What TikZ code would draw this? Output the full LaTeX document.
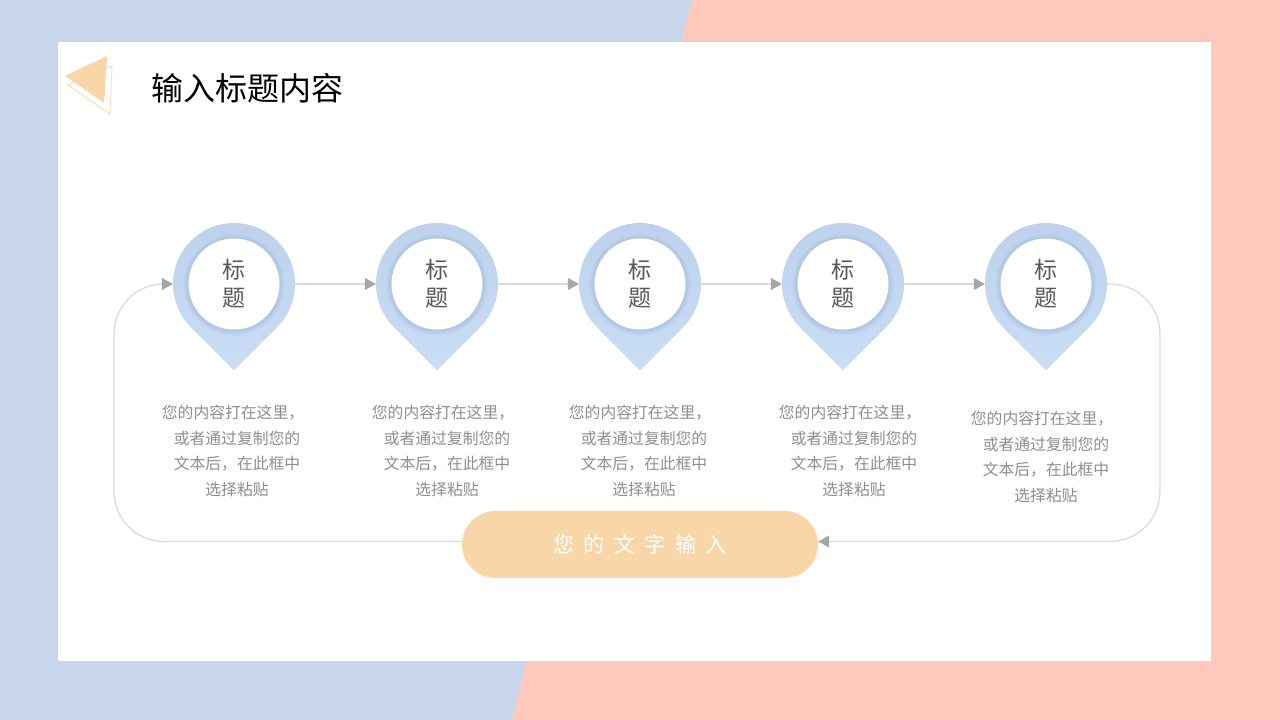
\documentclass[tikz,border=0pt]{standalone}
\usepackage{fontspec}
\setmainfont{Noto Sans CJK SC}
\usetikzlibrary{arrows.meta}
\definecolor{bgblue}{HTML}{C8D5EC}
\definecolor{bgpink}{HTML}{FEC9BC}
\definecolor{pinA}{HTML}{BDD1EC}
\definecolor{pinB}{HTML}{C9DDF5}
\definecolor{pinshadow}{HTML}{7F9CC5}
\definecolor{peach}{HTML}{F8D6A8}
\definecolor{linegray}{HTML}{D9D9D9}
\definecolor{tipgray}{HTML}{A6A6A6}
\definecolor{txtgray}{HTML}{8F8F8F}
\definecolor{pintxt}{HTML}{595959}
\tikzset{
  pinnode/.style={circle, minimum size=122pt, inner sep=0pt},
  flow/.style={draw=linegray, line width=1.2pt, -{Triangle[length=11pt,width=12pt,color=tipgray]}},
  desc/.style={text=txtgray, font=\fontsize{15.8pt}{25.5pt}\selectfont, align=center, inner sep=0pt},
  pintext/.style={text=pintxt, font=\fontsize{23pt}{28.5pt}\selectfont, align=center, inner sep=0pt},
  pillbox/.style={fill=peach, rounded corners=33.5pt, minimum width=356pt, minimum height=67pt, inner sep=0pt, text=white, font=\fontsize{21pt}{21pt}\selectfont},
}
\begin{document}
\begin{tikzpicture}[x=1pt,y=1pt]
\useasboundingbox (0,0) rectangle (1280,720);
\fill[bgblue] (0,0) rectangle (1280,720);
\fill[bgpink] (692,720) -- (1280,720) -- (1280,0) -- (512,0) -- cycle;
\fill[white] (58,59) rectangle (1211,678);
% logo
\draw[peach!80, line width=1pt] (68,635) -- (112,654) -- (110,606) -- cycle;
\fill[peach] (65,644) -- (107,664) -- (104,617) -- cycle;
\node[anchor=west, font=\fontsize{32pt}{32pt}\selectfont, inner sep=0pt] (title) at (151,632) {输入标题内容};
% pins
\foreach \i/\x in {1/234,2/437,3/640,4/843,5/1046} {
  \node[pinnode] (p\i) at (\x,436) {};
  \shade[top color=pinA, bottom color=pinB] (\x,349.73) -- ([shift={(-45:61)}]\x,436) arc[start angle=-45,end angle=225,radius=61] -- cycle;
  \foreach \r in {46.5,47.5,48.5,49.5,50.5} {
    \fill[pinshadow, opacity=0.06] (\x,435) circle (\r);
  }
  \fill[white] (\x,436) circle (45.5);
  \node[pintext] (t\i) at (\x,436.5) {标\\题};
}
% descriptions
\node[desc] (d1) at (237,269) {您的内容打在这里，\kern8pt\\或者通过复制您的\\文本后，在此框中\\选择粘贴};
\node[desc] (d2) at (447,269) {您的内容打在这里，\kern8pt\\或者通过复制您的\\文本后，在此框中\\选择粘贴};
\node[desc] (d3) at (644,269) {您的内容打在这里，\kern8pt\\或者通过复制您的\\文本后，在此框中\\选择粘贴};
\node[desc] (d4) at (854,269) {您的内容打在这里，\kern8pt\\或者通过复制您的\\文本后，在此框中\\选择粘贴};
\node[desc] (d5) at (1046,263) {您的内容打在这里，\kern8pt\\或者通过复制您的\\文本后，在此框中\\选择粘贴};
% pill
\node[pillbox] (pill) at (640,175.5) {您\hspace{9.5pt}的\hspace{9.5pt}文\hspace{9.5pt}字\hspace{9.5pt}输\hspace{9.5pt}入};
% connectors
\draw[flow] (p1.east) -- (p2.west);
\draw[flow] (p2.east) -- (p3.west);
\draw[flow] (p3.east) -- (p4.west);
\draw[flow] (p4.east) -- (p5.west);
\draw[flow, rounded corners=50pt] (p5.east) -- (1160,436) -- (1160,178.5) -- ([yshift=3pt]pill.east);
\draw[flow, rounded corners=50pt] ([yshift=3pt]pill.west) -- (114,178.5) -- (114,436) -- (p1.west);
\end{tikzpicture}
\end{document}
